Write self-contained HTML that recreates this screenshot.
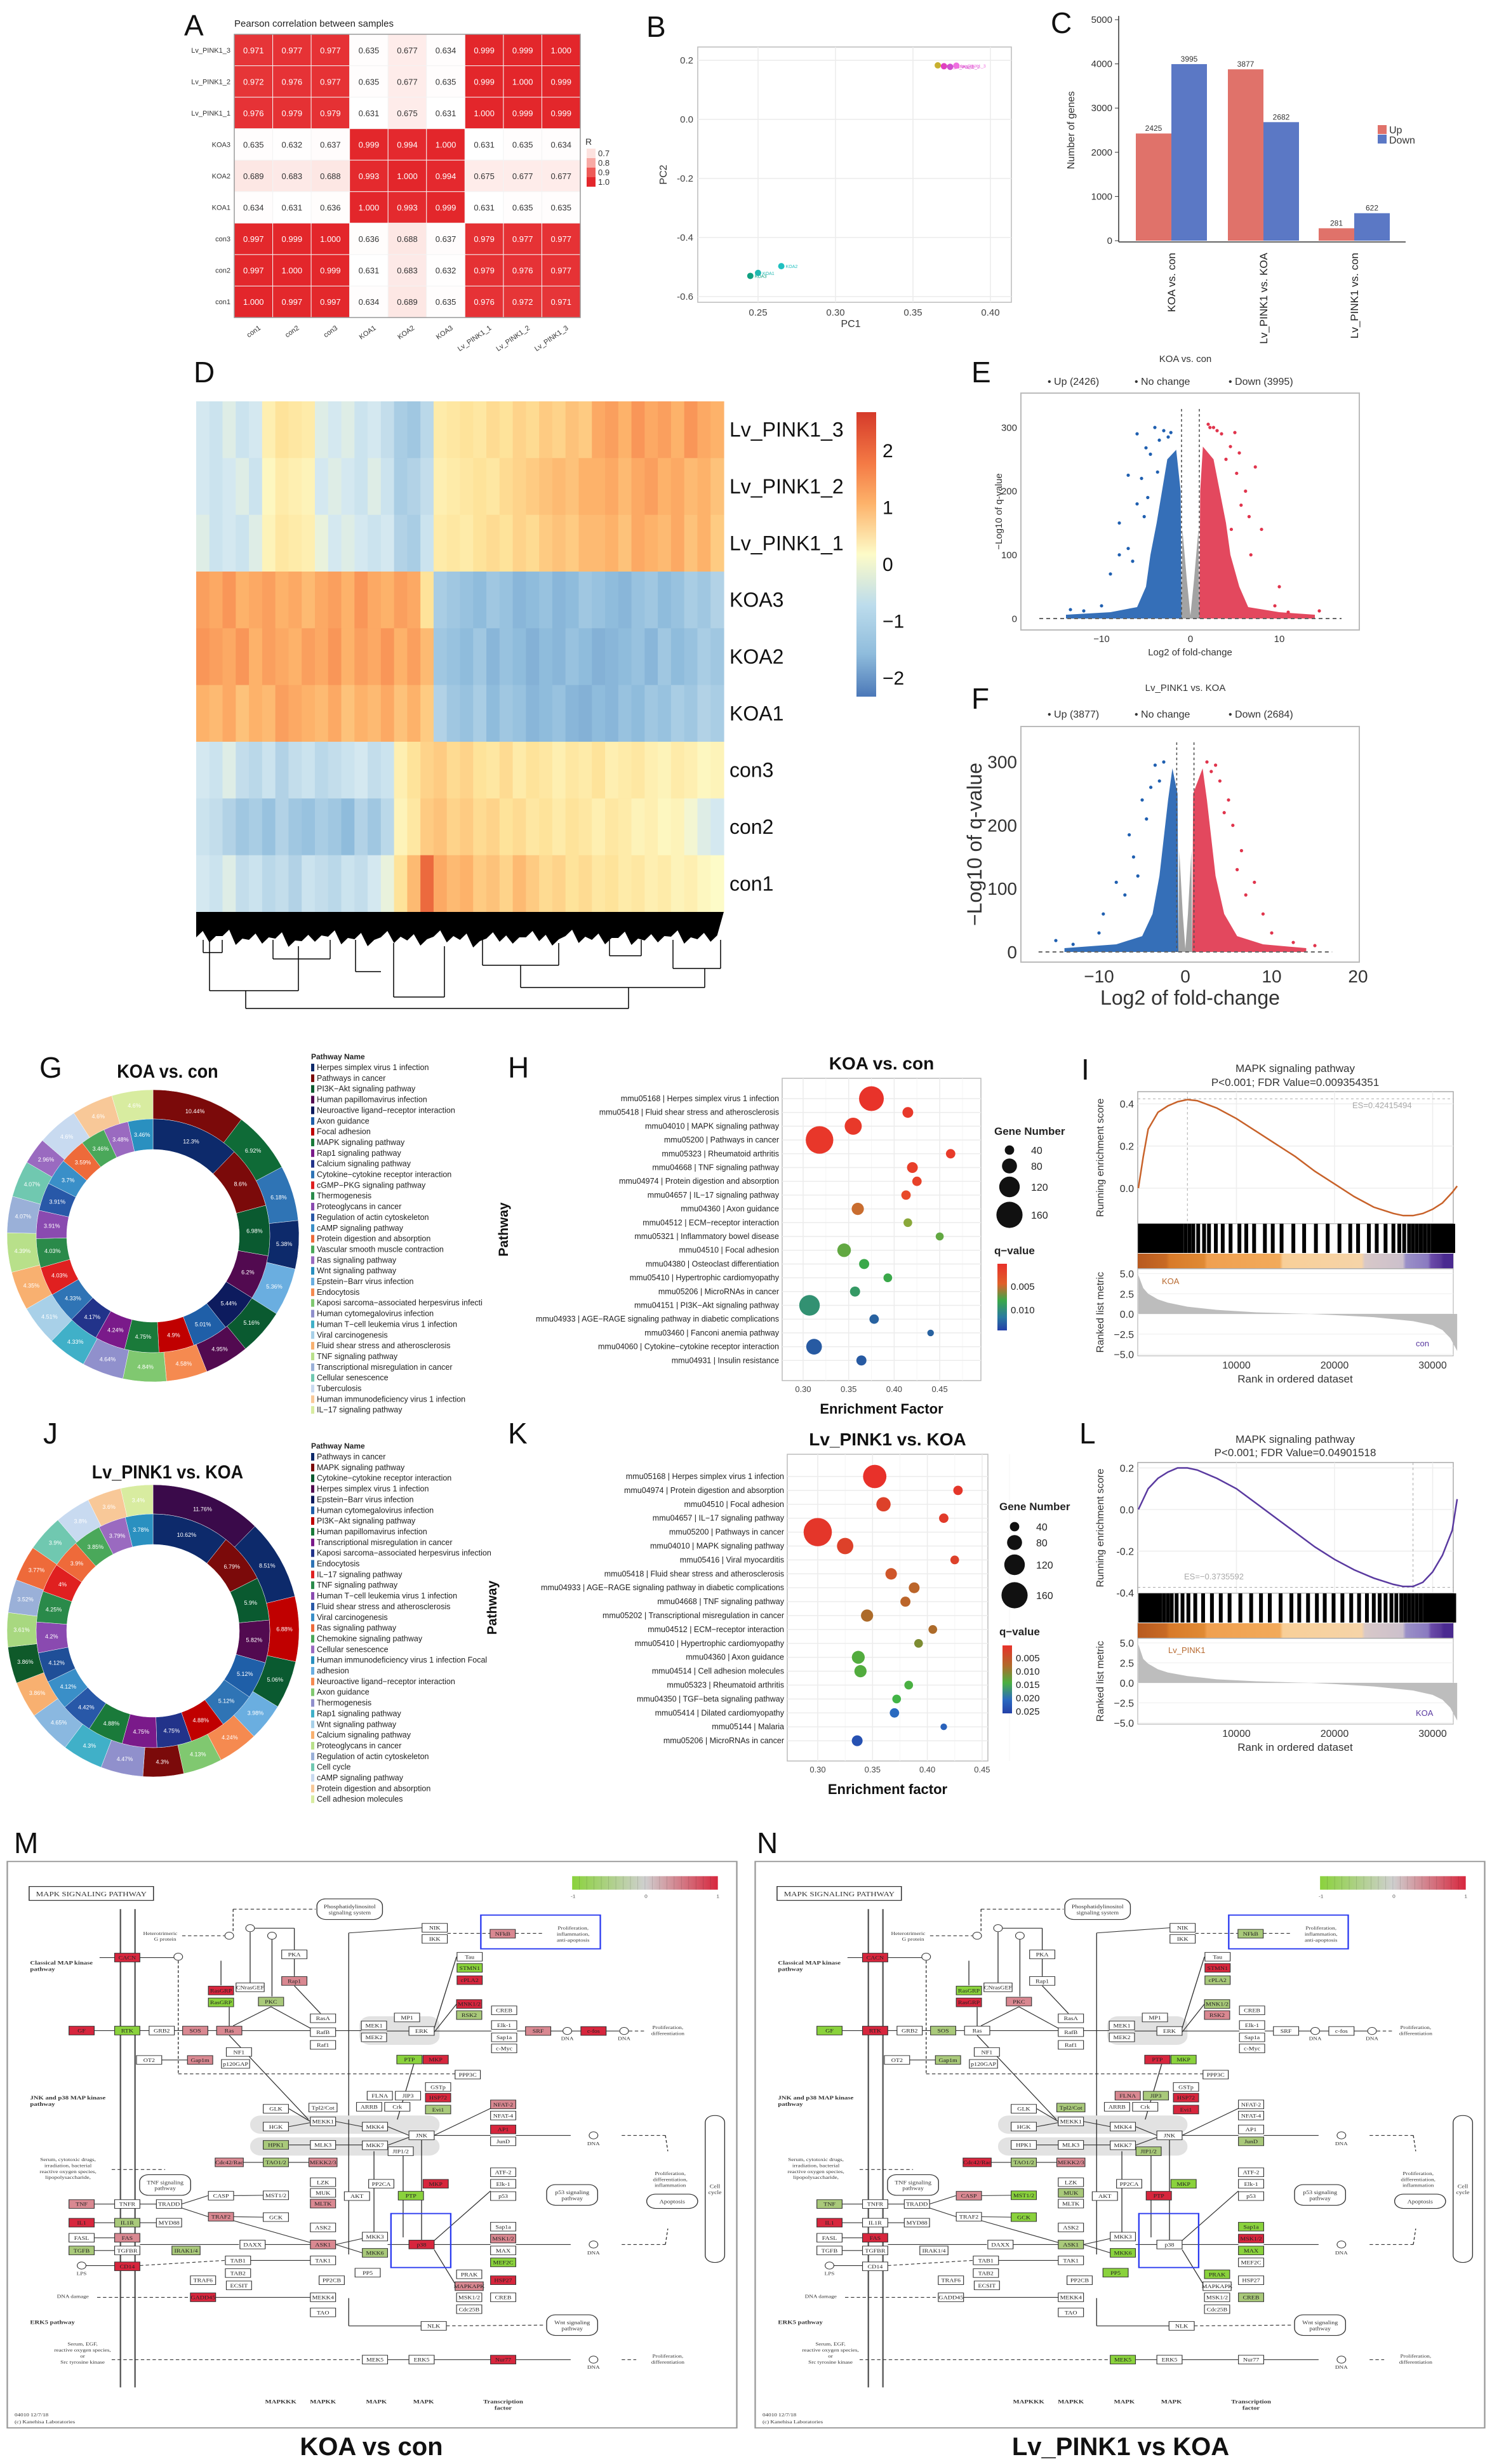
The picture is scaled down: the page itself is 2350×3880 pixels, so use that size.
<!DOCTYPE html>
<html><head><meta charset="utf-8">
<style>
html,body{margin:0;padding:0;background:#fff;}
svg{display:block;font-family:"Liberation Sans",Arial,sans-serif;}
</style></head>
<body>
<svg id="fig" xmlns="http://www.w3.org/2000/svg" width="2350" height="3880" viewBox="0 0 2350 3880">
<defs>
<linearGradient id="gH" x1="0" y1="0" x2="0" y2="1"><stop offset="0" stop-color="#e8312a"/><stop offset="0.3" stop-color="#e0602a"/><stop offset="0.55" stop-color="#3aa84a"/><stop offset="0.8" stop-color="#2a7aa0"/><stop offset="1" stop-color="#2440a8"/></linearGradient>
<linearGradient id="gK" x1="0" y1="0" x2="0" y2="1"><stop offset="0" stop-color="#e8312a"/><stop offset="0.3" stop-color="#b06a2a"/><stop offset="0.55" stop-color="#4ab040"/><stop offset="0.8" stop-color="#2a6ac0"/><stop offset="1" stop-color="#2440a8"/></linearGradient>
<linearGradient id="gD" x1="0" y1="0" x2="0" y2="1"><stop offset="0" stop-color="#d53a2a"/><stop offset="0.18" stop-color="#f47a45"/><stop offset="0.32" stop-color="#fdb26a"/><stop offset="0.5" stop-color="#fdfbc8"/><stop offset="0.68" stop-color="#bcdcec"/><stop offset="0.85" stop-color="#8fbcdc"/><stop offset="1" stop-color="#4b78b8"/></linearGradient>
<linearGradient id="gI" x1="0" y1="0" x2="1" y2="0"><stop offset="0" stop-color="#b85a20"/><stop offset="0.09" stop-color="#c86a24"/><stop offset="0.1" stop-color="#d87a2a"/><stop offset="0.21" stop-color="#e08a34"/><stop offset="0.22" stop-color="#f0a050"/><stop offset="0.45" stop-color="#f2aa5a"/><stop offset="0.46" stop-color="#f8cf98"/><stop offset="0.71" stop-color="#f6d4a8"/><stop offset="0.72" stop-color="#d8c8c8"/><stop offset="0.84" stop-color="#ccc0cc"/><stop offset="0.85" stop-color="#9a90c8"/><stop offset="0.92" stop-color="#8a7ac0"/><stop offset="0.93" stop-color="#6a4aa8"/><stop offset="0.96" stop-color="#5a3a9a"/><stop offset="0.97" stop-color="#4a2a90"/><stop offset="1" stop-color="#4a2a90"/></linearGradient>
<linearGradient id="gKegg" x1="0" y1="0" x2="1" y2="0"><stop offset="0" stop-color="#8ad23c"/><stop offset="0.5" stop-color="#cfcfcf"/><stop offset="1" stop-color="#d7263d"/></linearGradient>
</defs>
</svg>
<script>
const NS='http://www.w3.org/2000/svg';
const svg=document.getElementById('fig');
function mk(tag,attrs,parent,name){
  const el=document.createElementNS(NS,tag);
  for(const k in attrs) el.setAttribute(k,attrs[k]);
  
  
  (parent||svg).appendChild(el);
  return el;
}
function txt(x,y,s,attrs,parent,name){const t=mk('text',Object.assign({x:x,y:y},attrs||{}),parent,name);t.textContent=s;return t;}
function grp(name,attrs){return mk('g',attrs||{},svg,name);}
function lerpCol(c1,c2,t){const a=parseInt(c1.slice(1),16),b=parseInt(c2.slice(1),16);
 const r=Math.round(((a>>16)&255)*(1-t)+((b>>16)&255)*t),g=Math.round(((a>>8)&255)*(1-t)+((b>>8)&255)*t),bl=Math.round((a&255)*(1-t)+(b&255)*t);
 return 'rgb('+r+','+g+','+bl+')';}
function scaleCol(stops,v){if(v<=stops[0][0])return stops[0][1];for(let i=1;i<stops.length;i++){if(v<=stops[i][0]){const t=(v-stops[i-1][0])/(stops[i][0]-stops[i-1][0]);return lerpCol(stops[i-1][1],stops[i][1],t);}}return stops[stops.length-1][1];}

/* ---------- panel letters ---------- */
const letters=['A','B','C','D','E','F','G','H','I','J','K','L','M','N'];
const letterX=[290,1018,1655,305,1530,1530,62,800,1703,68,800,1700,22,1192];
const letterY=[56,58,52,602,602,1116,1697,1697,1700,2273,2273,2273,2918,2918];
const gLet=grp('panel-letters');
letters.forEach((L,i)=>{txt(letterX[i],letterY[i],L,{'font-size':46,fill:'#111'},gLet,'panel-letter-'+L.toLowerCase());});

/* ---------- A: correlation heatmap ---------- */
const aRows=['Lv_PINK1_3','Lv_PINK1_2','Lv_PINK1_1','KOA3','KOA2','KOA1','con3','con2','con1'];
const aCols=['con1','con2','con3','KOA1','KOA2','KOA3','Lv_PINK1_1','Lv_PINK1_2','Lv_PINK1_3'];
const aVals=[
[0.971,0.977,0.977,0.635,0.677,0.634,0.999,0.999,1.000],
[0.972,0.976,0.977,0.635,0.677,0.635,0.999,1.000,0.999],
[0.976,0.979,0.979,0.631,0.675,0.631,1.000,0.999,0.999],
[0.635,0.632,0.637,0.999,0.994,1.000,0.631,0.635,0.634],
[0.689,0.683,0.688,0.993,1.000,0.994,0.675,0.677,0.677],
[0.634,0.631,0.636,1.000,0.993,0.999,0.631,0.635,0.635],
[0.997,0.999,1.000,0.636,0.688,0.637,0.979,0.977,0.977],
[0.997,1.000,0.999,0.631,0.683,0.632,0.979,0.976,0.977],
[1.000,0.997,0.997,0.634,0.689,0.635,0.976,0.972,0.971]];
const aLegend=[0.7,0.8,0.9,1.0];
(function(){
 const g=grp('panel-a-correlation-heatmap');
 const x0=369,y0=54,W=545,H=446,cw=W/9,ch=H/9;
 const cs=[[0.63,'#ffffff'],[0.7,'#fde2df'],[0.8,'#f8a9a4'],[0.9,'#ee5a57'],[1.0,'#e3262b']];
 txt(x0,42,'Pearson correlation between samples',{'font-size':15,fill:'#222'},g,'panel-a-title');
 aVals.forEach((row,r)=>row.forEach((v,c)=>{
  mk('rect',{x:x0+c*cw,y:y0+r*ch,width:cw,height:ch,fill:scaleCol(cs,v),stroke:'#f3f3f3','stroke-width':1},g,'corr-cell');
  txt(x0+c*cw+cw/2,y0+r*ch+ch/2+5,v.toFixed(3),{'font-size':13,'text-anchor':'middle',fill:v>0.9?'#fff':'#333'},g,'corr-value');
 }));
 mk('rect',{x:x0,y:y0,width:W,height:H,fill:'none',stroke:'#999','stroke-width':1.5},g,'corr-frame');
 aRows.forEach((s,r)=>txt(x0-6,y0+r*ch+ch/2+4,s,{'font-size':11,'text-anchor':'end',fill:'#333'},g,'corr-row-label'));
 aCols.forEach((s,c)=>{const cx=x0+c*cw+cw/2+12;txt(cx,y0+H+18,s,{'font-size':11,'text-anchor':'end',fill:'#333',transform:'rotate(-35 '+cx+' '+(y0+H+18)+')'},g,'corr-col-label');});
 txt(922,228,'R',{'font-size':14,fill:'#333'},g,'corr-legend-title');
 aLegend.forEach((v,i)=>{mk('rect',{x:924,y:234+i*15,width:14,height:15,fill:scaleCol(cs,v)},g,'corr-legend-swatch');
  txt(942,246+i*15,v.toFixed(1),{'font-size':13,fill:'#333'},g,'corr-legend-label');});
})();

/* ---------- B: PCA ---------- */
const pcaX=[0.366,0.370,0.374,0.378,0.245,0.250,0.265];
const pcaY=[0.183,0.180,0.178,0.182,-0.530,-0.520,-0.497];
const pcaLab=['con','Lv_PINK1_1','Lv_PINK1_2','Lv_PINK1_3','KOA3','KOA1','KOA2'];
const pcaCol=['#c8b030','#e040c0','#d050d0','#f070e0','#10a080','#20b8b0','#20c0c0'];
const bTicksX=[0.25,0.30,0.35,0.40];
const bTicksY=[0.2,0.0,-0.2,-0.4,-0.6];
(function(){
 const g=grp('panel-b-pca');
 const bx=v=>1194+(v-0.25)*2440, by=v=>95+(0.2-v)*465;
 mk('rect',{x:1099,y:74,width:494,height:402,fill:'#fff',stroke:'#bbb','stroke-width':1.5},g,'pca-frame');
 bTicksX.forEach(v=>{mk('line',{x1:bx(v),x2:bx(v),y1:74,y2:476,stroke:'#ececec','stroke-width':1.5},g,'pca-grid-x');
  txt(bx(v),497,v.toFixed(2),{'font-size':15,'text-anchor':'middle',fill:'#444'},g,'pca-x-tick');});
 bTicksY.forEach(v=>{mk('line',{x1:1099,x2:1593,y1:by(v),y2:by(v),stroke:'#ececec','stroke-width':1.5},g,'pca-grid-y');
  txt(1092,by(v)+5,v.toFixed(1),{'font-size':15,'text-anchor':'end',fill:'#444'},g,'pca-y-tick');});
 txt(1340,515,'PC1',{'font-size':16,'text-anchor':'middle',fill:'#333'},g,'pca-x-title');
 txt(1050,275,'PC2',{'font-size':16,'text-anchor':'middle',fill:'#333',transform:'rotate(-90 1050 275)'},g,'pca-y-title');
 pcaX.forEach((v,i)=>{mk('circle',{cx:bx(v),cy:by(pcaY[i]),r:5,fill:pcaCol[i]},g,'pca-point');
  txt(bx(v)+7,by(pcaY[i])+3,pcaLab[i],{'font-size':7,fill:pcaCol[i]},g,'pca-point-label');});
})();

/* ---------- C: bar chart ---------- */
const cCats=['KOA vs. con','Lv_PINK1 vs. KOA','Lv_PINK1 vs. con'];
const cUp=[2425,3877,281];
const cDown=[3995,2682,622];
const cTicks=[0,1000,2000,3000,4000,5000];
(function(){
 const g=grp('panel-c-deg-bars');
 const cy=v=>379-v*0.0696, centers=[1845,1990,2133], bw=56;
 mk('line',{x1:1762,x2:1762,y1:25,y2:381,stroke:'#333','stroke-width':1.5},g,'c-y-axis');
 mk('line',{x1:1762,x2:2214,y1:381,y2:381,stroke:'#333','stroke-width':1.5},g,'c-x-axis');
 cTicks.forEach(v=>{mk('line',{x1:1756,x2:1762,y1:cy(v),y2:cy(v),stroke:'#333'},g,'c-tick');
  txt(1752,cy(v)+5,String(v),{'font-size':15,'text-anchor':'end',fill:'#333'},g,'c-y-tick-label');});
 txt(1692,205,'Number of genes',{'font-size':16,'text-anchor':'middle',fill:'#333',transform:'rotate(-90 1692 205)'},g,'c-y-title');
 cCats.forEach((c,i)=>{
  mk('rect',{x:centers[i]-bw,y:cy(cUp[i]),width:bw,height:379-cy(cUp[i]),fill:'#e0726a'},g,'bar-up');
  mk('rect',{x:centers[i],y:cy(cDown[i]),width:bw,height:379-cy(cDown[i]),fill:'#5b78c5'},g,'bar-down');
  txt(centers[i]-bw/2,cy(cUp[i])-4,String(cUp[i]),{'font-size':12,'text-anchor':'middle',fill:'#333'},g,'bar-up-value');
  txt(centers[i]+bw/2,cy(cDown[i])-4,String(cDown[i]),{'font-size':12,'text-anchor':'middle',fill:'#333'},g,'bar-down-value');
  const lx=centers[i]+6;
  txt(lx,398,c,{'font-size':17,'text-anchor':'end',fill:'#222',transform:'rotate(-90 '+lx+' 398)'},g,'c-category-label');
 });
 mk('rect',{x:2170,y:197,width:14,height:14,fill:'#e0726a'},g,'c-legend-up-swatch');
 txt(2188,210,'Up',{'font-size':16,fill:'#333'},g,'c-legend-up');
 mk('rect',{x:2170,y:212,width:14,height:14,fill:'#5b78c5'},g,'c-legend-down-swatch');
 txt(2188,226,'Down',{'font-size':16,fill:'#333'},g,'c-legend-down');
})();

/* ---------- D: expression heatmap ---------- */
const dRows=['Lv_PINK1_3','Lv_PINK1_2','Lv_PINK1_1','KOA3','KOA2','KOA1','con3','con2','con1'];
const dVals=[
[-0.4,-0.5,-0.3,-0.5,-0.4,0.3,0.6,0.5,0.4,-0.3,-0.4,-0.3,-0.5,-0.4,-0.6,-0.9,-1.0,-0.7,0.4,0.5,0.6,0.5,0.7,0.6,0.8,0.7,0.9,0.8,1.0,0.9,1.3,1.4,1.2,1.5,1.3,1.4,1.2,1.5,1.3,1.2],
[-0.4,-0.5,-0.4,-0.3,-0.5,0.1,0.4,0.3,0.2,-0.4,-0.3,-0.4,-0.5,-0.3,-0.5,-0.9,-0.8,-0.6,0.3,0.4,0.5,0.6,0.5,0.7,0.8,0.9,1.0,1.1,1.0,1.2,1.2,1.3,1.1,1.3,1.4,1.2,1.3,1.1,1.2,1.0],
[-0.3,-0.5,-0.4,-0.5,-0.3,0.2,0.5,0.4,0.3,-0.2,-0.4,-0.3,-0.4,-0.5,-0.4,-0.8,-0.9,-0.5,0.4,0.5,0.4,0.6,0.7,0.6,0.8,0.7,0.9,1.0,0.9,1.1,1.1,1.2,1.0,1.3,1.2,1.1,1.3,1.0,1.2,0.9],
[1.4,1.3,1.5,1.2,1.3,1.4,1.2,1.3,1.1,1.3,1.4,1.2,1.5,1.3,1.2,1.4,1.3,0.6,-0.9,-1.0,-1.1,-1.2,-1.0,-1.1,-1.3,-1.2,-1.1,-1.3,-1.2,-1.0,-1.1,-1.2,-1.3,-1.1,-1.0,-1.2,-1.1,-0.9,-1.0,-0.8],
[1.5,1.4,1.3,1.5,1.2,1.4,1.3,1.2,1.4,1.3,1.5,1.2,1.4,1.3,1.5,1.2,1.4,1.1,-1.0,-1.1,-1.2,-1.0,-1.3,-1.1,-1.2,-1.4,-1.2,-1.3,-1.1,-1.2,-1.4,-1.3,-1.2,-1.1,-1.3,-1.0,-1.2,-1.1,-0.9,-1.0],
[1.2,1.1,1.3,1.0,1.2,1.1,1.4,1.3,1.2,1.1,1.3,1.0,1.2,1.1,1.3,1.0,1.2,0.9,-0.8,-1.0,-1.1,-0.9,-1.2,-1.0,-1.1,-1.3,-1.2,-1.1,-1.3,-1.4,-1.2,-1.3,-1.1,-1.2,-1.0,-1.1,-0.9,-1.0,-0.8,-0.9],
[-0.4,-0.5,-0.3,-0.6,-0.7,-0.5,-0.8,-0.6,-0.5,-0.7,-0.6,-0.5,-0.4,-0.6,-0.5,0.3,0.6,0.8,0.9,0.7,0.8,0.6,0.5,0.7,0.4,0.6,0.5,0.3,0.5,0.4,0.6,0.3,0.4,0.5,0.3,0.2,0.4,0.3,0.1,0.2],
[-0.5,-0.6,-0.8,-1.0,-0.9,-1.1,-0.8,-1.0,-1.1,-0.9,-1.0,-1.2,-0.8,-1.0,-0.7,0.2,0.5,0.9,1.0,0.8,0.9,0.7,0.8,0.6,0.7,0.5,0.6,0.4,0.6,0.5,0.3,0.5,0.4,0.2,0.3,0.1,0.2,-0.1,-0.3,-0.4],
[-0.4,-0.5,-0.3,-0.6,-0.5,-0.7,-0.6,-0.8,-0.5,-0.6,-0.7,-0.5,-0.6,-0.4,-0.2,0.6,1.1,2.0,1.3,1.1,1.2,0.9,1.0,0.8,1.1,0.9,0.7,0.8,0.6,0.7,0.5,0.6,0.4,0.5,0.3,0.4,0.2,0.3,0.1,0.0]];
const dTicks=[2,1,0,-1,-2];
const dDendroDepth=[40,48,38,52,44,50,42,55,46,47,39,51,43,54,40,49,45,53,39,48,44,56,42,47,50,40,46,53,38,49,44,51,41,52,45,48,39,50,43,47];
(function(){
 const g=grp('panel-d-expression-heatmap');
 const x0=309,x1=1140,y0=632,y1=1436,rh=(y1-y0)/9;
 const cs=[[-2.4,'#4b78b8'],[-1.2,'#8fbcdc'],[-0.4,'#d4e8f0'],[0,'#fdfbc8'],[0.6,'#fee39a'],[1.2,'#fdb26a'],[1.8,'#f47a45'],[2.6,'#d53a2a']];
 dVals.forEach((row,r)=>{const cw=(x1-x0)/row.length;row.forEach((v,c)=>{
   mk('rect',{x:x0+c*cw,y:y0+r*rh,width:cw+0.6,height:rh+0.4,fill:scaleCol(cs,v)},g,'heat-cell');});
   txt(1149,y0+r*rh+rh/2+11,dRows[r],{'font-size':32,fill:'#111'},g,'heat-row-label');});
 const cby=v=>888-v*89.5;
 mk('rect',{x:1349,y:649,width:31,height:448,fill:'url(#gD)'},g,'heat-colorbar');
 dTicks.forEach(v=>txt(1390,cby(v)+11,v<0?'\u2212'+(-v):String(v),{'font-size':30,fill:'#111'},g,'heat-colorbar-label'));
 const dg=mk('g',{},g,'heat-dendrogram');
 const n=dDendroDepth.length,w=(x1-x0)/n;
 let p='M'+x0+' 1436 ';
 dDendroDepth.forEach((d,i)=>{p+='L'+(x0+i*w)+' '+(1436+d)+' L'+(x0+(i+0.5)*w)+' '+(1436+d-10)+' ';});
 p+='L'+x1+' 1436 Z';
 mk('path',{d:p,fill:'#000'},dg,'dendrogram-leaves');
 const br=['M387 1588 H990','M387 1588 V1560','M990 1588 V1555','M330 1560 H470','M330 1560 V1480','M470 1560 V1490','M820 1555 H1110','M820 1555 V1520','M1110 1555 V1525','M760 1520 H880','M760 1520 V1480','M880 1520 V1485','M1060 1525 H1135','M1060 1525 V1480','M1135 1525 V1480','M430 1510 H520','M430 1510 V1480','M520 1510 V1480','M320 1500 H350','M320 1500 V1480','M350 1500 V1480','M620 1570 H700','M620 1570 V1485','M700 1570 V1490','M560 1530 H600','M560 1530 V1480','M960 1505 H1010','M960 1505 V1480','M1010 1505 V1480'];
 br.forEach(d=>mk('path',{d:d,fill:'none',stroke:'#000','stroke-width':1.5},dg,'dendrogram-branch'));
})();

/* ---------- E/F: volcano ---------- */
const eBlueEnv=[[-1,0],[-14,0],[-14,6],[-9,10],[-6,18],[-5,50],[-4.5,100],[-3.8,150],[-3.2,200],[-2.6,250],[-1.6,265],[-1.1,200],[-1,0]];
const eRedEnv=[[1,0],[14,0],[14,6],[10,10],[6.5,18],[5.5,50],[4.5,100],[4,150],[3.3,200],[2.6,250],[1.4,270],[1.1,200],[1,0]];
const eGreyEnv=[[-1,0],[1,0],[0.9,140],[0.4,60],[0,5],[-0.4,60],[-0.9,140]];
const eBluePts=[[-6,290],[-4,300],[-3,295],[-2.2,292],[-5,268],[-7,225],[-6,180],[-8,150],[-5.5,220],[-4.5,258],[-10,20],[-12,12],[-13.5,14],[-3.5,280],[-2.5,285],[-7,110],[-6.5,90],[-9,70],[-3.7,230],[-8,100],[-5.2,160],[-4.8,190]];
const eRedPts=[[2.2,300],[3,295],[5,292],[2.6,300],[7.3,238],[5.5,260],[6.2,200],[8,140],[4.5,270],[9.5,20],[11,10],[14.5,12],[3.5,290],[2,305],[6.8,100],[6.6,160],[10,50],[5.2,228],[4,250],[5.7,178],[4.6,140]];
const fBlueEnv=[[-0.8,0],[-14,0],[-14,6],[-8,12],[-5,25],[-3.8,60],[-3,120],[-2.5,180],[-2,240],[-1.5,290],[-0.9,250],[-0.8,0]];
const fRedEnv=[[0.8,0],[14,0],[14,6],[9,12],[6,25],[4.5,60],[3.5,120],[3,180],[2.5,240],[2,290],[0.9,250],[0.8,0]];
const fGreyEnv=[[-0.8,0],[0.8,0],[0.7,160],[0.3,60],[0,5],[-0.3,60],[-0.7,160]];
const fBluePts=[[-3.5,295],[-2.5,300],[-4,260],[-5,240],[-6.5,185],[-8,110],[-6,150],[-4.5,210],[-10,30],[-13,12],[-15,18],[-3,270],[-7,90],[-5.5,120],[-9.5,60]];
const fRedPts=[[2.5,300],[3.5,295],[4,270],[5,240],[3,285],[6.5,160],[8,110],[5.5,200],[10,30],[12.5,15],[15,10],[4.5,220],[7,90],[9,60],[6,130]];
const eTicksX=[-10,0,10], eTicksY=[0,100,200,300];
const fTicksX=[-10,0,10,20], fTicksY=[0,100,200,300];
function volcano(name,o){
 const g=grp(name);
 const X=v=>o.x0+v*o.xs, Y=v=>o.y0-v*o.ys;
 mk('rect',{x:o.box[0],y:o.box[1],width:o.box[2]-o.box[0],height:o.box[3]-o.box[1],fill:'#fff',stroke:'#bbb','stroke-width':2},g,'volcano-frame');
 const poly=(env,col,nm)=>mk('polygon',{points:env.map(p=>X(p[0])+','+Y(p[1])).join(' '),fill:col,'fill-opacity':0.9},g,nm);
 poly(o.blue,'#1f5fb0','down-genes-cloud');poly(o.red,'#e0344c','up-genes-cloud');poly(o.grey,'#999','nochange-genes-cloud');
 o.bp.forEach(p=>mk('circle',{cx:X(p[0]),cy:Y(p[1]),r:2.6,fill:'#1f5fb0'},g,'down-gene-point'));
 o.rp.forEach(p=>mk('circle',{cx:X(p[0]),cy:Y(p[1]),r:2.6,fill:'#e0344c'},g,'up-gene-point'));
 mk('line',{x1:X(-17),x2:X(17),y1:Y(0),y2:Y(0),stroke:'#666','stroke-width':2,'stroke-dasharray':'6 5'},g,'volcano-baseline');
 [-1,1].forEach(v=>mk('line',{x1:X(v),x2:X(v),y1:o.box[1]+25,y2:Y(0),stroke:'#555','stroke-width':1.6,'stroke-dasharray':'4 4'},g,'fc-threshold-line'));
 o.tx.forEach(v=>txt(X(v),o.box[3]+o.tf+4,v<0?'\u2212'+(-v):String(v),{'font-size':o.tf,'text-anchor':'middle',fill:'#333'},g,'volcano-x-tick'));
 o.ty.forEach(v=>txt(o.box[0]-6,Y(v)+o.tf*0.35,String(v),{'font-size':o.tf,'text-anchor':'end',fill:'#333'},g,'volcano-y-tick'));
 txt((o.box[0]+o.box[2])/2,o.xtY,'Log2 of fold-change',{'font-size':o.af,'text-anchor':'middle',fill:'#333'},g,'volcano-x-title');
 const cy=(o.box[1]+o.box[3])/2;
 txt(o.ytX,cy,'\u2212Log10 of q-value',{'font-size':o.af,'text-anchor':'middle',fill:'#333',transform:'rotate(-90 '+o.ytX+' '+cy+')'},g,'volcano-y-title');
 txt(1867,o.titleY,o.title,{'font-size':15,'text-anchor':'middle',fill:'#333'},g,'volcano-title');
 const lg=o.legend;
 txt(1650,o.legY,'\u2022 '+lg[0],{'font-size':16,fill:'#333'},g,'legend-up');
 txt(1787,o.legY,'\u2022 '+lg[1],{'font-size':16,fill:'#333'},g,'legend-nochange');
 txt(1935,o.legY,'\u2022 '+lg[2],{'font-size':16,fill:'#333'},g,'legend-down');
}
volcano('panel-e-volcano',{box:[1608,619,2141,992],x0:1875,xs:14,y0:974,ys:1.003,blue:eBlueEnv,red:eRedEnv,grey:eGreyEnv,bp:eBluePts,rp:eRedPts,tx:eTicksX,ty:eTicksY,tf:15,af:15,xtY:1032,ytX:1578,title:'KOA vs. con',titleY:570,legY:606,legend:['Up (2426)','No change','Down (3995)']});
volcano('panel-f-volcano',{box:[1608,1144,2141,1515],x0:1867,xs:13.6,y0:1499,ys:0.997,blue:fBlueEnv,red:fRedEnv,grey:fGreyEnv,bp:fBluePts,rp:fRedPts,tx:fTicksX,ty:fTicksY,tf:28,af:32,xtY:1582,ytX:1546,title:'Lv_PINK1 vs. KOA',titleY:1088,legY:1130,legend:['Up (3877)','No change','Down (2684)']});

/* ---------- G/J: donuts ---------- */
const gOuterPct=[10.44,6.92,6.18,5.38,5.36,5.16,4.95,4.58,4.84,4.64,4.33,4.51,4.35,4.39,4.07,4.07,2.96,4.6,4.6,4.6];
const gOuterCol=['#7b0a0a','#0f6b37','#2f74b5','#0d2a6b','#6aaee0','#0a5a30','#520a50','#f58a50','#80c870','#9090cc','#40b0c8','#a8d0e8','#f8b070','#b8e08a','#9ab0d8','#70c8b0','#9a6ac0','#c8daf0','#f8c898','#d8eca0'];
const gInnerPct=[12.3,8.6,6.98,6.2,5.44,5.01,4.9,4.75,4.24,4.17,4.33,4.03,4.03,3.91,3.91,3.7,3.59,3.46,3.48,3.46];
const gInnerCol=['#0d2a6b','#7b0a0a','#0a5a30','#520a50','#0d1b5e','#1f5fa8','#c00000','#1a7a3a','#7a1a8a','#22338a','#2f74b5','#e02020','#2a8a4a','#8a4ab0','#2858a8','#3a8fc8','#ee6a3a','#4aa85a','#9a6ac0','#2a90c0'];
const jOuterPct=[11.76,8.51,6.88,5.06,3.98,4.24,4.13,4.3,4.47,4.3,4.65,3.86,3.86,3.61,3.52,3.77,3.9,3.8,3.6,3.4];
const jOuterCol=['#3a0a4a','#0d2a6b','#c00000','#0a5a30','#6aaee0','#f58a50','#80c870','#7b0a0a','#9090cc','#40b0c8','#8ab8e0','#f8b070','#0f5a2a','#a8d880','#9ab0d8','#ee6a3a','#70c8b0','#c8daf0','#f8c898','#d8eca0'];
const jInnerPct=[10.62,6.79,5.9,5.82,5.12,5.12,4.88,4.75,4.75,4.88,4.42,4.12,4.12,4.2,4.25,4.0,3.9,3.85,3.79,3.78];
const jInnerCol=['#0d2a6b','#7b0a0a','#0a5a30','#520a50','#1f5fa8','#2f74b5','#c00000','#22338a','#7a1a8a','#1a7a3a','#2858a8','#3a8fc8','#1f4f98','#8a4ab0','#2a8a4a','#e02020','#ee6a3a','#4aa85a','#9a6ac0','#2a90c0'];
const gLegend=['Herpes simplex virus 1 infection','Pathways in cancer','PI3K\u2212Akt signaling pathway','Human papillomavirus infection','Neuroactive ligand\u2212receptor interaction','Axon guidance','Focal adhesion','MAPK signaling pathway','Rap1 signaling pathway','Calcium signaling pathway','Cytokine\u2212cytokine receptor interaction','cGMP\u2212PKG signaling pathway','Thermogenesis','Proteoglycans in cancer','Regulation of actin cytoskeleton','cAMP signaling pathway','Protein digestion and absorption','Vascular smooth muscle contraction','Ras signaling pathway','Wnt signaling pathway','Epstein\u2212Barr virus infection','Endocytosis','Kaposi sarcoma\u2212associated herpesvirus infecti','Human cytomegalovirus infection','Human T\u2212cell leukemia virus 1 infection','Viral carcinogenesis','Fluid shear stress and atherosclerosis','TNF signaling pathway','Transcriptional misregulation in cancer','Cellular senescence','Tuberculosis','Human immunodeficiency virus 1 infection','IL\u221217 signaling pathway'];
const jLegend=['Pathways in cancer','MAPK signaling pathway','Cytokine\u2212cytokine receptor interaction','Herpes simplex virus 1 infection','Epstein\u2212Barr virus infection','Human cytomegalovirus infection','PI3K\u2212Akt signaling pathway','Human papillomavirus infection','Transcriptional misregulation in cancer','Kaposi sarcoma\u2212associated herpesvirus infection','Endocytosis','IL\u221217 signaling pathway','TNF signaling pathway','Human T\u2212cell leukemia virus 1 infection','Fluid shear stress and atherosclerosis','Viral carcinogenesis','Ras signaling pathway','Chemokine signaling pathway','Cellular senescence','Human immunodeficiency virus 1 infection Focal','adhesion','Neuroactive ligand\u2212receptor interaction','Axon guidance','Thermogenesis','Rap1 signaling pathway','Wnt signaling pathway','Calcium signaling pathway','Proteoglycans in cancer','Regulation of actin cytoskeleton','Cell cycle','cAMP signaling pathway','Protein digestion and absorption','Cell adhesion molecules'];
const legendPalette=['#0d2a6b','#7b0a0a','#0a5a30','#520a50','#0d1b5e','#1f5fa8','#c00000','#1a7a3a','#7a1a8a','#22338a','#2f74b5','#e02020','#2a8a4a','#8a4ab0','#2858a8','#3a8fc8','#ee6a3a','#4aa85a','#9a6ac0','#2a90c0','#6aaee0','#f58a50','#80c870','#9090cc','#40b0c8','#a8d0e8','#f8b070','#b8e08a','#9ab0d8','#70c8b0','#c8daf0','#f8c898','#d8eca0'];
function arcPath(cx,cy,r0,r1,a0,a1){
 const P=(r,a)=>(cx+r*Math.sin(a)).toFixed(2)+' '+(cy-r*Math.cos(a)).toFixed(2);
 const lg=(a1-a0)>Math.PI?1:0;
 return 'M'+P(r1,a0)+' A'+r1+' '+r1+' 0 '+lg+' 1 '+P(r1,a1)+' L'+P(r0,a1)+' A'+r0+' '+r0+' 0 '+lg+' 0 '+P(r0,a0)+' Z';
}
function ring(g,cx,cy,r0,r1,pct,col){
 const tot=pct.reduce((a,b)=>a+b,0);let a=0;
 pct.forEach((p,i)=>{const a1=a+p/tot*2*Math.PI;
  mk('path',{d:arcPath(cx,cy,r0,r1,a,a1),fill:col[i],stroke:'#fff','stroke-width':0.5},g,'donut-segment');
  const am=(a+a1)/2,rm=(r0+r1)/2;
  txt(cx+rm*Math.sin(am),cy-rm*Math.cos(am)+3,p+'%',{'font-size':9,'text-anchor':'middle',fill:'#fff'},g,'donut-percent-label');
  a=a1;});
}
function donut(name,cx,cy,title,titleY,outP,outC,inP,inC,legend,legY){
 const g=grp(name);
 txt(264,titleY,title,{'font-size':30,'text-anchor':'middle','font-weight':'bold',fill:'#111',transform:'scale(0.9 1) translate('+(264*0.111)+' 0)'},g,'donut-title');
 ring(g,cx,cy,184,230,outP,outC);
 ring(g,cx,cy,136,184,inP,inC);
 txt(490,legY,'Pathway Name',{'font-size':12,'font-weight':'bold',fill:'#222'},g,'legend-title');
 legend.forEach((s,i)=>{const y=legY+17+i*16.85;
  mk('rect',{x:490,y:y-10,width:5,height:12,fill:legendPalette[i%legendPalette.length]},g,'legend-swatch');
  txt(499,y,s,{'font-size':12.5,fill:'#222'},g,'legend-entry');});
}
donut('panel-g-donut',241,1946,'KOA vs. con',1697,gOuterPct,gOuterCol,gInnerPct,gInnerCol,gLegend,1668);
donut('panel-j-donut',241,2568,'Lv_PINK1 vs. KOA',2328,jOuterPct,jOuterCol,jInnerPct,jInnerCol,jLegend,2281);

/* ---------- H/K: bubble plots ---------- */
const hPath=['mmu05168 | Herpes simplex virus 1 infection','mmu05418 | Fluid shear stress and atherosclerosis','mmu04010 | MAPK signaling pathway','mmu05200 | Pathways in cancer','mmu05323 | Rheumatoid arthritis','mmu04668 | TNF signaling pathway','mmu04974 | Protein digestion and absorption','mmu04657 | IL\u221217 signaling pathway','mmu04360 | Axon guidance','mmu04512 | ECM\u2212receptor interaction','mmu05321 | Inflammatory bowel disease','mmu04510 | Focal adhesion','mmu04380 | Osteoclast differentiation','mmu05410 | Hypertrophic cardiomyopathy','mmu05206 | MicroRNAs in cancer','mmu04151 | PI3K\u2212Akt signaling pathway','mmu04933 | AGE\u2212RAGE signaling pathway in diabetic complications','mmu03460 | Fanconi anemia pathway','mmu04060 | Cytokine\u2212cytokine receptor interaction','mmu04931 | Insulin resistance'];
const hFactor=[0.375,0.415,0.355,0.318,0.462,0.42,0.425,0.413,0.36,0.415,0.45,0.345,0.367,0.393,0.357,0.307,0.378,0.44,0.312,0.364];
const hCount=[150,50,95,170,40,50,40,40,60,35,30,70,45,35,45,120,40,20,85,45];
const hQ=[0.0005,0.001,0.001,0.0008,0.0012,0.0015,0.0018,0.0025,0.004,0.006,0.007,0.007,0.008,0.008,0.009,0.0095,0.0125,0.0125,0.013,0.013];
const kPath=['mmu05168 | Herpes simplex virus 1 infection','mmu04974 | Protein digestion and absorption','mmu04510 | Focal adhesion','mmu04657 | IL\u221217 signaling pathway','mmu05200 | Pathways in cancer','mmu04010 | MAPK signaling pathway','mmu05416 | Viral myocarditis','mmu05418 | Fluid shear stress and atherosclerosis','mmu04933 | AGE\u2212RAGE signaling pathway in diabetic complications','mmu04668 | TNF signaling pathway','mmu05202 | Transcriptional misregulation in cancer','mmu04512 | ECM\u2212receptor interaction','mmu05410 | Hypertrophic cardiomyopathy','mmu04360 | Axon guidance','mmu04514 | Cell adhesion molecules','mmu05323 | Rheumatoid arthritis','mmu04350 | TGF\u2212beta signaling pathway','mmu05414 | Dilated cardiomyopathy','mmu05144 | Malaria','mmu05206 | MicroRNAs in cancer'];
const kFactor=[0.352,0.428,0.36,0.415,0.3,0.325,0.425,0.367,0.388,0.38,0.345,0.405,0.392,0.337,0.339,0.383,0.372,0.37,0.415,0.336];
const kCount=[140,40,75,40,175,90,35,55,50,45,60,35,35,65,60,35,35,40,20,50];
const kQ=[0.0005,0.001,0.002,0.0015,0.001,0.002,0.002,0.004,0.006,0.006,0.007,0.007,0.01,0.013,0.013,0.014,0.015,0.021,0.022,0.024];
const hTicks=[0.30,0.35,0.40,0.45];
const sizeLegend=[40,80,120,160];
const hQTicks=[0.005,0.010];
const kQTicks=[0.005,0.010,0.015,0.020,0.025];
function bubbles(name,o){
 const g=grp(name);
 const X=v=>o.xz+(v-0.30)*o.xs, Y=i=>o.yz+i*o.rs, R=n=>3+0.11*n;
 mk('rect',{x:o.box[0],y:o.box[1],width:o.box[2]-o.box[0],height:o.box[3]-o.box[1],fill:'#fff',stroke:'#bbb','stroke-width':1.5},g,'bubble-frame');
 hTicks.forEach(v=>{mk('line',{x1:X(v),x2:X(v),y1:o.box[1],y2:o.box[3],stroke:'#ececec','stroke-width':1.5},g,'bubble-grid-x');
  mk('line',{x1:X(v+0.025),x2:X(v+0.025),y1:o.box[1],y2:o.box[3],stroke:'#f5f5f5','stroke-width':1},g,'bubble-grid-minor');
  txt(X(v),o.box[3]+18,v.toFixed(2),{'font-size':13,'text-anchor':'middle',fill:'#444'},g,'bubble-x-tick');});
 o.path.forEach((s,i)=>{mk('line',{x1:o.box[0],x2:o.box[2],y1:Y(i),y2:Y(i),stroke:'#ececec','stroke-width':1.5},g,'bubble-grid-y');
  txt(o.box[0]-5,Y(i)+4,s,{'font-size':12.5,'text-anchor':'end',fill:'#222'},g,'pathway-label');});
 o.f.forEach((v,i)=>mk('circle',{cx:X(v),cy:Y(i),r:R(o.n[i]),fill:scaleCol(o.cs,o.q[i])},g,'pathway-bubble'));
 txt((o.box[0]+o.box[2])/2,o.box[1]-14,o.title,{'font-size':28,'font-weight':'bold','text-anchor':'middle',fill:'#111'},g,'bubble-title');
 txt((o.box[0]+o.box[2])/2,o.box[3]+52,o.xt,{'font-size':22,'font-weight':'bold','text-anchor':'middle',fill:'#111'},g,'bubble-x-title');
 const cy=(o.box[1]+o.box[3])/2;
 txt(o.ytX,cy,'Pathway',{'font-size':21,'font-weight':'bold','text-anchor':'middle',fill:'#111',transform:'rotate(-90 '+o.ytX+' '+cy+')'},g,'bubble-y-title');
 txt(o.lx,o.gnY,'Gene Number',{'font-size':17,'font-weight':'bold',fill:'#222'},g,'size-legend-title');
 sizeLegend.forEach((n,i)=>{mk('circle',{cx:o.lx+24,cy:o.sY[i],r:R(n),fill:'#111'},g,'size-legend-circle');
  txt(o.lx+58,o.sY[i]+6,String(n),{'font-size':16,fill:'#222'},g,'size-legend-label');});
 txt(o.lx,o.qY,'q\u2212value',{'font-size':17,'font-weight':'bold',fill:'#222'},g,'q-legend-title');
 mk('rect',{x:o.lx+5,y:o.cb[0],width:15,height:o.cb[1]-o.cb[0],fill:o.grad},g,'q-colorbar');
 o.qt.forEach(v=>txt(o.lx+26,o.qpos(v)+5,v.toFixed(3),{'font-size':15,fill:'#222'},g,'q-colorbar-label'));
}
bubbles('panel-h-enrichment',{box:[1232,1698,1545,2174],xz:1265,xs:1434,yz:1730,rs:21.7,path:hPath,f:hFactor,n:hCount,q:hQ,
 cs:[[0.0003,'#e8312a'],[0.003,'#e8502a'],[0.006,'#8aa83a'],[0.008,'#3aa84a'],[0.011,'#2a7a9a'],[0.0146,'#2440a8']],
 title:'KOA vs. con',xt:'Enrichment Factor',ytX:800,lx:1566,gnY:1787,sY:[1811,1836,1869,1913],qY:1975,cb:[1990,2095],grad:'url(#gH)',qt:hQTicks,qpos:v=>2026+(v-0.005)*7400});
bubbles('panel-k-enrichment',{box:[1240,2290,1556,2773],xz:1288,xs:1726,yz:2325,rs:21.9,path:kPath,f:kFactor,n:kCount,q:kQ,
 cs:[[0.0005,'#e8312a'],[0.005,'#c8602a'],[0.008,'#a0702a'],[0.012,'#5aa83a'],[0.016,'#3ab84a'],[0.021,'#2a6ac0'],[0.026,'#2440a8']],
 title:'Lv_PINK1 vs. KOA',xt:'Enrichment factor',ytX:782,lx:1574,gnY:2378,sY:[2404,2429,2464,2512],qY:2575,cb:[2591,2698],grad:'url(#gK)',qt:kQTicks,qpos:v=>2611+(v-0.005)*4200});

/* ---------- I/L: GSEA ---------- */
const esRank=[0,500,1000,2000,3000,4000,5000,6000,8000,10000,12000,14000,16000,18000,20000,22000,24000,26000,27000,28000,29000,30000,31000,32000,32500];
const esI=[0,0.15,0.28,0.36,0.39,0.41,0.42,0.415,0.38,0.33,0.27,0.21,0.15,0.08,0.02,-0.04,-0.09,-0.12,-0.13,-0.13,-0.12,-0.1,-0.07,-0.02,0.01];
const esL=[0,0.05,0.1,0.15,0.18,0.2,0.2,0.19,0.15,0.1,0.03,-0.04,-0.11,-0.18,-0.24,-0.29,-0.33,-0.36,-0.37,-0.37,-0.35,-0.3,-0.22,-0.1,0.05];
const metricRank=[0,500,1000,2000,3000,5000,8000,12000,16000,17500,20000,24000,28000,30000,31000,31800,32500];
const metricI=[4.8,3.2,2.5,1.8,1.4,0.9,0.5,0.2,0.05,0,-0.15,-0.4,-0.9,-1.4,-2.0,-3.0,-4.6];
const metricL=[4.8,3.0,2.4,1.7,1.3,0.85,0.45,0.2,0.05,0,-0.15,-0.45,-0.95,-1.5,-2.1,-3.1,-4.7];
const hitsI=[150,300,420,600,750,900,1050,1200,1400,1550,1700,1900,2100,2250,2400,2600,2800,3000,3300,3500,3800,4100,4400,4800,5200,5600,6100,6700,7200,7900,8600,9400,10300,11000,11800,12900,13700,14600,15800,16900,18100,19300,20500,21600,22400,23500,24300,25200,26000,26600,27100,27600,28000,28400,28800,29200,29600,30000,30300,30600,30900,31200,31500,31800,32100];
const hitsL=[200,400,600,800,1000,1300,1600,1900,2200,2600,3000,3400,3900,4500,5100,5800,6600,7500,8400,9300,10400,11500,12500,13400,14500,15600,16400,17300,18200,19000,19900,20800,21700,22500,23300,24000,24600,25200,25800,26300,26800,27200,27600,28000,28400,28800,29200,29500,29800,30100,30400,30700,31000,31300,31600,31900,32200];
const rankTicks=[10000,20000,30000];
function gsea(name,o){
 const g=grp(name);
 const X=r=>1793+r*0.01545, YE=e=>o.e0-e*o.es, YM=m=>o.m0-m*o.ms;
 txt(2040,o.t1,'MAPK signaling pathway',{'font-size':17,'text-anchor':'middle',fill:'#333'},g,'gsea-title');
 txt(2040,o.t2,o.sub,{'font-size':17,'text-anchor':'middle',fill:'#333'},g,'gsea-subtitle');
 mk('rect',{x:1792,y:o.p1[0],width:497,height:o.p1[1]-o.p1[0],fill:'#fff',stroke:'#aaa','stroke-width':1.5},g,'es-panel');
 rankTicks.forEach(r=>mk('line',{x1:X(r),x2:X(r),y1:o.p1[0],y2:o.p1[1],stroke:'#eee','stroke-width':1.5},g,'es-grid'));
 o.esT.forEach(v=>{mk('line',{x1:1792,x2:2289,y1:YE(v),y2:YE(v),stroke:'#eee','stroke-width':1.5},g,'es-grid-y');
  txt(1786,YE(v)+6,v.toFixed(1),{'font-size':16,'text-anchor':'end',fill:'#333'},g,'es-tick');});
 mk('line',{x1:1792,x2:2289,y1:YE(o.peak),y2:YE(o.peak),stroke:'#aaa','stroke-dasharray':'4 4'},g,'es-peak-line');
 mk('line',{x1:X(o.peakR),x2:X(o.peakR),y1:o.p1[0],y2:o.p1[1],stroke:'#aaa','stroke-dasharray':'4 4'},g,'es-peak-rank-line');
 mk('polyline',{points:esRank.map((r,i)=>X(r)+','+YE(o.es_[i])).join(' '),fill:'none',stroke:o.col,'stroke-width':2.5},g,'es-curve');
 txt(o.esLab[0],o.esLab[1],o.esText,{'font-size':13,fill:'#aaa'},g,'es-value-label');
 mk('rect',{x:1792,y:o.p2[0],width:497,height:o.p2[1]-o.p2[0],fill:'#fff',stroke:'#aaa'},g,'hits-panel');
 o.hits.forEach(r=>mk('line',{x1:X(r),x2:X(r),y1:o.p2[0],y2:o.p2[0]+46,stroke:'#000','stroke-width':6},g,'hit-line'));
 mk('rect',{x:1792,y:o.p2[0]+47,width:497,height:o.p2[1]-o.p2[0]-47,fill:'url(#gI)'},g,'rank-color-bar');
 mk('rect',{x:1792,y:o.p3[0],width:497,height:o.p3[1]-o.p3[0],fill:'#fff',stroke:'#aaa'},g,'metric-panel');
 [5,2.5,0,-2.5,-5].forEach(v=>{mk('line',{x1:1792,x2:2289,y1:YM(v),y2:YM(v),stroke:'#eee'},g,'metric-grid');
  txt(1786,YM(v)+6,(v<0?'\u2212'+(-v).toFixed(1):v.toFixed(1)),{'font-size':16,'text-anchor':'end',fill:'#333'},g,'metric-tick');});
 let d='M'+X(0)+' '+YM(0)+' ';metricRank.forEach((r,i)=>{d+='L'+X(r)+' '+YM(o.met[i])+' ';});d+='L'+X(32500)+' '+YM(0)+' Z';
 mk('path',{d:d,fill:'#bdbdbd'},g,'metric-area');
 txt(o.posLab[0],o.posLab[1],o.pos,{'font-size':13,fill:'#b86a30'},g,'metric-positive-label');
 txt(2230,o.negY,o.neg,{'font-size':13,fill:'#5a3aa0'},g,'metric-negative-label');
 rankTicks.forEach(r=>txt(X(r),o.p3[1]+20,String(r),{'font-size':16,'text-anchor':'middle',fill:'#333'},g,'rank-tick'));
 txt(2040,o.p3[1]+42,'Rank in ordered dataset',{'font-size':17,'text-anchor':'middle',fill:'#333'},g,'rank-axis-title');
 const c1=(o.p1[0]+o.p1[1])/2, c3=(o.p3[0]+o.p3[1])/2;
 txt(1738,c1,'Running enrichment score',{'font-size':16,'text-anchor':'middle',fill:'#333',transform:'rotate(-90 1738 '+c1+')'},g,'es-y-title');
 txt(1738,c3,'Ranked list metric',{'font-size':16,'text-anchor':'middle',fill:'#333',transform:'rotate(-90 1738 '+c3+')'},g,'metric-y-title');
}
gsea('panel-i-gsea',{t1:1688,t2:1710,sub:'P<0.001; FDR Value=0.009354351',p1:[1719,1927],p2:[1927,1997],p3:[1998,2135],e0:1871,es:332,m0:2069,ms:12.7,
 esT:[0.4,0.2,0.0],peak:0.424,peakR:5000,es_:esI,col:'#c8622a',esLab:[2130,1745],esText:'ES=0.42415494',hits:hitsI,met:metricI,pos:'KOA',posLab:[1830,2022],neg:'con',negY:2120});
gsea('panel-l-gsea',{t1:2272,t2:2293,sub:'P<0.001; FDR Value=0.04901518',p1:[2303,2509],p2:[2509,2579],p3:[2580,2715],e0:2377,es:327.5,m0:2650,ms:12.6,
 esT:[0.2,0.0,-0.2,-0.4],peak:-0.374,peakR:28000,es_:esL,col:'#5a3aa0',esLab:[1865,2487],esText:'ES=\u22120.3735592',hits:hitsL,met:metricL,pos:'Lv_PINK1',posLab:[1840,2603],neg:'KOA',negY:2702});

/* ---------- M/N: KEGG maps ---------- */
const keggLabel=['CACN','GF','RTK','GRB2','SOS','Ras','RasGRP','RasGRP','CNrasGEF','PKC','PKA','Rap1','RasA','RafB','Raf1','MP1','MEK1','MEK2','ERK','PTP','MKP','NF1','p120GAP','Gap1m','OT2','NIK','IKK','NFkB','Tau','STMN1','cPLA2','MNK1/2','RSK2','CREB','Elk-1','Sap1a','c-Myc','SRF','c-fos','PPP3C','GSTp','HSP72','Evi1','FLNA','JIP3','ARRB','Crk','GLK','Tpl2/Cot','HGK','MEKK1','HPK1','MLK3','MKK4','MKK7','JNK','JIP1/2','NFAT-2','NFAT-4','AP1','JunD','Cdc42/Rac','TAO1/2','MEKK2/3','LZK','MUK','MLTK','AKT','PP2CA','MKP','PTP','ATF-2','Elk-1','p53','TNF','TNFR','TRADD','CASP','MST1/2','TRAF2','GCK','IL1','IL1R','MYD88','FASL','FAS','TGFB','TGFBR','IRAK1/4','DAXX','ASK2','ASK1','MKK3','MKK6','p38','Sap1a','MSK1/2','MAX','MEF2C','CD14','TAB1','TAB2','TAK1','TRAF6','ECSIT','PP2CB','PP5','PRAK','MAPKAPK','HSP27','CREB','Cdc25B','GADD45','MEKK4','TAO','NLK','MEK5','ERK5','Nur77','MSK1/2'];
const keggX=[262,168,262,333,402,472,455,455,515,558,606,606,665,665,665,838,770,770,868,843,897,492,485,412,307,895,895,1035,967,967,967,966,966,1038,1038,1038,1038,1108,1222,963,902,902,902,782,840,760,818,568,665,568,665,568,665,772,772,868,825,1036,1036,1036,1036,472,568,665,665,665,665,735,785,897,846,1036,1036,1036,168,262,348,455,568,455,568,168,262,348,168,262,168,262,383,520,665,665,772,772,868,1036,1036,1036,1036,262,490,490,665,418,492,683,757,966,966,1036,1036,966,418,665,665,893,772,868,1036,966];
const keggY=[292,476,476,476,476,476,375,405,367,403,284,351,445,480,512,443,463,493,477,549,549,530,560,550,550,217,245,232,290,318,349,409,437,425,462,493,521,477,477,587,618,645,675,640,640,668,668,673,670,718,705,764,764,718,765,740,780,662,690,725,755,808,808,808,858,885,912,893,862,862,892,833,862,893,913,913,913,892,891,945,946,960,960,960,998,998,1030,1030,1030,1015,972,1015,995,1036,1015,970,1000,1030,1060,1070,1055,1087,1055,1105,1118,1105,1086,1090,1120,1105,1148,1178,1148,1148,1186,1220,1305,1305,1305,1148];
const keggM='RRGWPPRGWgWPWWWWWWWGRWWPWWWPWGRRgWWWWPRWWRgWWWWWWWWgWWWWWPWRWPgPWWPWWRGWWWPWWWWPWRgWWPgWgWWPWgRWPWGRWWWWWWWWPRWWRWWWWWRW';
const keggN='RGRWgWGRWPWWWWWWWWWRGWWgWWWgWRggPWWWWWWWWRRPgWWWgWWWWWWWgWWWgRgPWgWWWGRWWWgWWPGWGRWWWRWWWWWgWGWGRGWWWWWWWWGGWWgWWWWWGW';
const keggColors={R:'#d7263d',P:'#d98891',G:'#8ad23c',g:'#a9c97a',W:'#ffffff'};
const keggLines=[[205,292,236,292,0],[288,292,358,292,0],[194,476,236,476,0],[288,476,307,476,0],[359,476,376,476,0],[428,476,446,476,0],[498,476,639,476,0],[691,476,744,476,0],[796,477,842,477,0],[894,477,1012,477,0],[1064,477,1082,477,0],[1134,477,1196,477,0],[1248,477,1275,477,0],[1295,477,1330,477,1],
[718,230,869,217,0],[718,230,718,690,0],[921,231,1009,231,1],[1061,231,1120,231,1],[480,170,650,170,1],[480,170,480,230,1],[375,237,462,237,1],[367,300,367,585,1],[367,585,937,585,1],
[515,228,515,355,0],[560,246,560,390,0],[525,218,606,218,0],[606,218,606,272,0],[606,296,606,339,0],[606,363,660,433,0],[455,300,455,362,0],[472,417,472,464,0],[558,416,480,464,0],[558,416,639,470,0],
[333,550,386,550,0],[472,488,635,700,0],[894,470,940,290,0],[894,480,940,409,0],[595,673,639,705,0],[595,718,639,708,0],[595,764,639,764,0],[691,764,746,764,0],[691,705,746,718,0],[798,718,842,740,0],[798,765,842,745,0],[894,740,1010,740,0],[894,740,1010,672,0],[1062,740,1175,740,0],[1280,740,1370,740,1],[1370,740,1375,780,1],
[498,808,542,808,0],[594,808,639,808,0],[288,913,322,913,0],[374,913,428,892,0],[470,892,542,891,0],[374,923,429,945,0],[481,945,542,946,0],[194,913,236,913,0],[194,960,236,960,0],[288,960,322,960,0],[194,998,236,998,0],[194,1030,236,1030,0],[288,1015,492,1015,0],[546,1015,639,1015,0],[481,955,639,1010,0],
[691,1015,746,1000,0],[691,1015,746,1036,0],[798,1015,842,1015,0],[894,1015,1010,1015,0],[1062,1015,1175,1015,0],[1280,1015,1370,1015,1],[1370,1015,1375,975,1],[177,1068,236,1068,0],[288,1068,464,1055,1],[516,1055,639,1055,0],[444,1148,639,1148,0],[200,1148,392,1148,1],
[718,1150,718,1220,0],[718,1220,867,1220,0],[919,1220,1120,1218,1],[230,1305,746,1305,1],[798,1305,842,1305,0],[894,1305,1010,1305,0],[1062,1305,1175,1305,0],[1280,1305,1310,1305,1],[868,752,868,1003,0],[852,560,818,700,0],[894,1028,940,1120,0],[894,1005,1010,880,0],[830,780,830,997,0],[770,780,770,990,0],[718,700,718,1040,0],[230,826,340,826,1]];
function kegg(name,tx,colStr,caption,capX){
 const g=grp(name,{transform:'translate('+tx+' 2900) scale(0.765 0.625)'});
 mk('rect',{x:15,y:50,width:1502,height:1427,fill:'#fff',stroke:'#999','stroke-width':3},g,'kegg-frame');
 mk('rect',{x:60,y:113,width:256,height:35,fill:'#fff',stroke:'#333','stroke-width':2},g,'kegg-title-box');
 txt(188,138,'MAPK SIGNALING PATHWAY',{'font-size':17,'font-family':'Liberation Serif','text-anchor':'middle',fill:'#333'},g,'kegg-title');
 [248,278].forEach(x=>mk('line',{x1:x,x2:x,y1:170,y2:1375,stroke:'#555','stroke-width':3},g,'kegg-membrane'));
 [[740,440,165,72],[515,690,390,46],[515,745,390,46]].forEach(b=>mk('rect',{x:b[0],y:b[1],width:b[2],height:b[3],rx:22,fill:'#e2e2e2'},g,'kegg-scaffold'));
 keggLines.forEach(l=>{const a={x1:l[0],y1:l[1],x2:l[2],y2:l[3],stroke:'#333','stroke-width':1.8};if(l[4])a['stroke-dasharray']='7 5';mk('line',a,g,'kegg-edge');});
 [[720,170,135,52,'Phosphatidylinositol','signaling system'],[340,865,105,52,'TNF signaling','pathway'],[1178,890,105,52,'p53 signaling','pathway'],[1178,1218,105,52,'Wnt signaling','pathway'],[1384,906,105,36,'Apoptosis',''],[1472,875,40,370,'Cell','cycle']].forEach(b=>{
  mk('rect',{x:b[0]-b[2]/2,y:b[1]-b[3]/2,width:b[2],height:b[3],rx:18,fill:'#fff',stroke:'#333','stroke-width':1.8},g,'kegg-pathway-link');
  txt(b[0],b[1]-(b[5]?2:-5),b[4],{'font-size':13,'font-family':'Liberation Serif','text-anchor':'middle',fill:'#333'},g,'kegg-link-label');
  if(b[5])txt(b[0],b[1]+13,b[5],{'font-size':13,'font-family':'Liberation Serif','text-anchor':'middle',fill:'#333'},g,'kegg-link-label');});
 [[472,237],[515,218],[560,237],[367,290],[1168,477],[1285,477],[1222,740],[1222,1015],[1222,1305],[168,1068]].forEach(c=>mk('circle',{cx:c[0],cy:c[1],r:9,fill:'#fff',stroke:'#333','stroke-width':1.5},g,'kegg-compound'));
 keggLabel.forEach((s,i)=>{const w=s.length>6?58:52;
  mk('rect',{x:keggX[i]-w/2,y:keggY[i]-11,width:w,height:22,fill:keggColors[colStr[i]]||'#fff',stroke:'#333','stroke-width':1.5},g,'kegg-gene-node');
  txt(keggX[i],keggY[i]+5,s,{'font-size':13,'font-family':'Liberation Serif','text-anchor':'middle',fill:'#222'},g,'kegg-gene-label');});
 [[990,185,246,85],[805,937,123,136]].forEach(b=>mk('rect',{x:b[0],y:b[1],width:b[2],height:b[3],fill:'none',stroke:'#2a3af0','stroke-width':3},g,'kegg-highlight-box'));
 mk('rect',{x:1178,y:87,width:300,height:34,fill:'url(#gKegg)'},g,'kegg-color-legend');
 for(let i=1;i<20;i++)mk('line',{x1:1178+i*15,x2:1178+i*15,y1:87,y2:121,stroke:'rgba(0,0,0,0.15)'},g,'kegg-legend-tick');
 [['-1',1180],['0',1330],['1',1478]].forEach(t=>txt(t[1],142,t[0],{'font-size':11,'text-anchor':'middle',fill:'#555'},g,'kegg-legend-label'));
 [['Classical MAP kinase',62,310],['pathway',62,326],['JNK and p38 MAP kinase',62,650],['pathway',62,666],['ERK5 pathway',62,1215],['Heterotrimeric',330,235],['G protein',340,250],['Serum, cytotoxic drugs,',140,805],['irradiation, bacterial',140,820],['reactive oxygen species,',140,835],['lipopolysaccharide,',140,850],['DNA damage',150,1150],['Serum, EGF,',170,1270],['reactive oxygen species,',170,1285],['or',170,1300],['Src tyrosine kinase',170,1315],['04010 12/7/18',30,1448],['(c) Kanehisa Laboratories',30,1466],['Proliferation,',1180,222],['inflammation,',1180,237],['anti-apoptosis',1180,252],['Proliferation,',1375,472],['differentiation',1375,487],['Proliferation,',1375,1300],['differentiation',1375,1315],['Proliferation,',1380,840],['differentiation,',1380,855],['inflammation',1380,870],['DNA',1168,500],['DNA',1285,500],['DNA',1222,765],['DNA',1222,1040],['DNA',1222,1328],['LPS',168,1092]].forEach(t=>
  txt(t[1],t[2],t[0],{'font-size':t[0].length>3&&t[1]<100&&t[2]<1300?14:12,'font-family':'Liberation Serif','font-weight':(t[1]<100&&t[2]<1300)?'bold':'normal',fill:'#333','text-anchor':(t[1]>1100||t[1]==168||t[1]==140||t[1]==150||t[1]==170||t[1]==330||t[1]==340)?'middle':'start'},g,'kegg-annotation'));
 [['MAPKKK',578],['MAPKK',665],['MAPK',775],['MAPK',872],['Transcription',1036]].forEach(t=>txt(t[1],1415,t[0],{'font-size':14,'font-weight':'bold','font-family':'Liberation Serif','text-anchor':'middle',fill:'#333'},g,'kegg-level-label'));
 txt(1036,1431,'factor',{'font-size':14,'font-weight':'bold','font-family':'Liberation Serif','text-anchor':'middle',fill:'#333'},g,'kegg-level-label');
 txt(capX,3866,caption,{'font-size':40,'font-weight':'bold','text-anchor':'middle',fill:'#111'},svg,'kegg-caption');
}
kegg('panel-m-kegg-map',0,keggM,'KOA vs con',585);
kegg('panel-n-kegg-map',1178,keggN,'Lv_PINK1 vs KOA',1765);
</script>
</body></html>
